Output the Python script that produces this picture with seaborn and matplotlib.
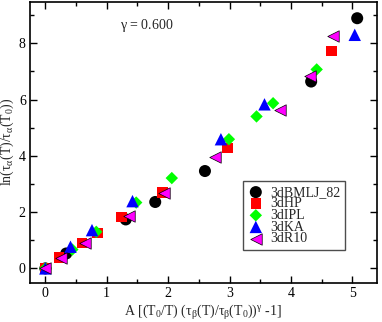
import numpy as np
import pandas as pd
import matplotlib
matplotlib.use("Agg")
import matplotlib.pyplot as plt
import seaborn as sns
from matplotlib.ticker import MultipleLocator

# data
bmlj_x = [0.0, 0.34, 1.31, 1.79, 2.60, 4.33, 5.08]
bmlj_y = [0.0, 0.53, 1.74, 2.36, 3.46, 6.64, 8.89]

hp_x = [0.0, 0.22, 0.60, 0.85, 1.24, 1.91, 2.97, 4.66]
hp_y = [0.0, 0.38, 0.91, 1.26, 1.83, 2.70, 4.28, 7.72]

ipl_x = [0.0, 0.44, 0.83, 1.48, 2.06, 2.99, 3.44, 3.71, 4.42]
ipl_y = [0.0, 0.67, 1.30, 2.34, 3.21, 4.59, 5.40, 5.87, 7.07]

ka_x = [0.0, 0.41, 0.76, 1.42, 2.86, 3.57, 5.04]
ka_y = [0.0, 0.77, 1.36, 2.39, 4.59, 5.83, 8.30]

r10_x = [0.0, 0.26, 0.65, 1.36, 1.94, 2.77, 3.82, 4.31, 4.69]
r10_y = [0.0, 0.38, 0.91, 1.85, 2.68, 3.96, 5.64, 6.82, 8.27]

labels = ["3dBMLJ_82", "3dHP", "3dIPL", "3dKA", "3dR10"]

sns.set_style("ticks")
plt.rcParams['font.family'] = ['Liberation Serif', 'DejaVu Serif']
plt.rcParams['mathtext.fontset'] = 'custom'
plt.rcParams['mathtext.rm'] = 'Liberation Serif'
plt.rcParams['mathtext.it'] = 'Liberation Serif'
plt.rcParams['mathtext.bf'] = 'Liberation Serif:bold'

fig = plt.figure(figsize=(3.82, 3.22), dpi=100)
ax = fig.add_axes([0.0785, 0.121, 0.908, 0.874])

series = [
    (bmlj_x, bmlj_y, "o", "black", 75, "none", 0),
    (hp_x, hp_y, "s", "red", 58, "none", 0),
    (ipl_x, ipl_y, "D", "#00ff00", 40, "none", 0),
    (ka_x, ka_y, "^", "blue", 80, "none", 0),
    (r10_x, r10_y, "<", "magenta", 68, "black", 0.5),
]
for (xs, ys, mk, col, size, ec, lw), lab in zip(series, labels):
    sns.scatterplot(x=xs, y=ys, marker=mk, color=col, s=size,
                    edgecolor=ec, linewidth=lw, label=lab, ax=ax, zorder=3)

ax.set_xlim(-0.25, 5.4)
ax.set_ylim(-0.52, 9.48)
ax.xaxis.set_major_locator(MultipleLocator(1))
ax.xaxis.set_minor_locator(MultipleLocator(0.5))
ax.yaxis.set_major_locator(MultipleLocator(2))
ax.yaxis.set_minor_locator(MultipleLocator(1))
ax.tick_params(which="both", direction="in", top=True, right=True,
               labelsize=10, width=1, colors="black")
ax.tick_params(which="major", length=5, pad=3)
ax.tick_params(which="minor", length=3)
for sp in ax.spines.values():
    sp.set_linewidth(1.2)
    sp.set_color("black")

ax.set_xlabel(r"A [(T$_0$/T) ($\tau_\beta$(T)/$\tau_\beta$(T$_0$))$^\gamma$ -1]",
              fontsize=10, labelpad=2)
ax.set_ylabel(r"ln($\tau_\alpha$(T)/$\tau_\alpha$(T$_0$))", fontsize=10, labelpad=2)

ax.text(0.336, 0.915, r"$\gamma$ = 0.600", transform=ax.transAxes,
        ha="center", va="center", fontsize=10)

leg = ax.legend(loc="upper left", bbox_to_anchor=(0.613, 0.363),
                borderaxespad=0, fontsize=10, labelspacing=-0.1,
                handletextpad=0.45, handlelength=1.2, borderpad=0.35,
                fancybox=False, framealpha=1)
leg.get_frame().set_edgecolor("0.3")
leg.get_frame().set_linewidth(1.0)

fig.savefig("out.png", dpi=100)
